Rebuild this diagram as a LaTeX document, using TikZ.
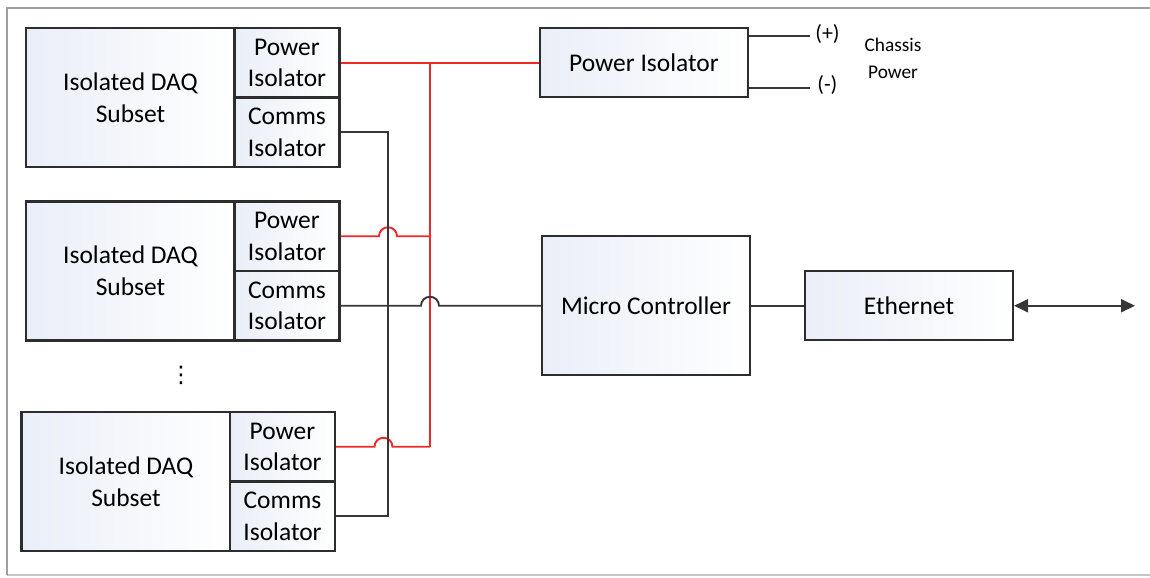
\documentclass[tikz,border=0pt]{standalone}
\usepackage{fontspec}
\setmainfont{Carlito}
\newfontfamily\symfont{DejaVu Sans}
\usetikzlibrary{arrows.meta}
\definecolor{boxline}{RGB}{45,45,45}
\definecolor{wire}{RGB}{55,55,55}
\definecolor{pwrwire}{RGB}{240,40,40}
\definecolor{boxtint}{RGB}{234,238,247}
\begin{document}
\begin{tikzpicture}[every node/.style={align=center, inner sep=0pt, font=\fontsize{14.5}{18}\selectfont},
  block/.style={draw=boxline, line width=1.2pt, left color=boxtint, right color=white},
  daqbox/.style={block, minimum width=4.18cm, minimum height=2.78cm},
  isobox/.style={block, minimum width=2.1cm, minimum height=1.39cm},
  widebox/.style={block, minimum width=4.16cm, minimum height=1.38cm},
  bigbox/.style={block, minimum width=4.16cm, minimum height=2.78cm},
  small/.style={font=\fontsize{11}{15}\selectfont},
  termlabel/.style={font=\fontsize{12.5}{15}\selectfont, anchor=west},
  sigline/.style={draw=wire, line width=1.1pt},
  pwrline/.style={draw=pwrwire, line width=1.1pt}]
\useasboundingbox (0,0) rectangle (23,-11.54);
\draw[gray!45, line width=1pt] (0.14,-11.5) -- (23.3,-11.5);
\draw[gray!75, line width=1.1pt] (23.3,-0.16) -- (0.14,-0.16) -- (0.14,-11.5);

\node[daqbox] (daq1) at (2.61, -1.95) {Isolated DAQ\\Subset};
\node[isobox] (pwr1) at (5.74, -1.255) {Power\\Isolator};
\node[isobox] (com1) at (5.74, -2.645) {Comms\\Isolator};

\node[daqbox] (daq2) at (2.61, -5.42) {Isolated DAQ\\Subset};
\node[isobox] (pwr2) at (5.74, -4.725) {Power\\Isolator};
\node[isobox] (com2) at (5.74, -6.115) {Comms\\Isolator};

\node[font=\symfont\fontsize{13}{15}\selectfont] (dots) at (3.62, -7.5) {⋮};

\node[daqbox] (daq3) at (2.52, -9.63) {Isolated DAQ\\Subset};
\node[isobox] (pwr3) at (5.65, -8.935) {Power\\Isolator};
\node[isobox] (com3) at (5.65, -10.325) {Comms\\Isolator};

\node[widebox] (piso) at (12.88, -1.255) {Power Isolator};
\node[bigbox] (mcu) at (12.92, -6.115) {Micro Controller};
\node[widebox] (eth) at (18.18, -6.115) {Ethernet};

\coordinate (plus) at (16.2, -0.72);
\coordinate (minus) at (16.2, -1.76);
\node[termlabel] (plustxt) at (16.3, -0.68) {(+)};
\node[termlabel] (minustxt) at (16.34, -1.7) {(-)};
\node[small] (chassis) at (17.86, -1.17) {Chassis\\Power};
\coordinate (ethout) at (22.7, -6.115);

% power rail
\draw[pwrline] (pwr1.east) -- (piso.west);
\draw[pwrline] (8.6, -1.255) -- (8.6, -8.935);
\draw[pwrline] (pwr2.east) -- (7.58, -4.725) arc[start angle=180, end angle=0, radius=0.18cm] -- (8.6, -4.725);
\draw[pwrline] (pwr3.east) -- (7.49, -8.935) arc[start angle=180, end angle=0, radius=0.18cm] -- (8.6, -8.935);

% comms bus
\draw[sigline] (com1.east) -- (7.76, -2.645) -- (7.76, -10.325) -- (com3.east);
\draw[sigline] (com2.east) -- (8.42, -6.115) arc[start angle=180, end angle=0, radius=0.18cm] -- (mcu.west);
\draw[sigline] (mcu.east) -- (eth.west);
\draw[sigline, {Triangle[length=0.28cm, width=0.26cm]}-{Triangle[length=0.28cm, width=0.26cm]}] (eth.east) -- (ethout);

% chassis supply
\draw[sigline] (piso.east |- plus) -- (plus);
\draw[sigline] (piso.east |- minus) -- (minus);
\end{tikzpicture}
\end{document}
